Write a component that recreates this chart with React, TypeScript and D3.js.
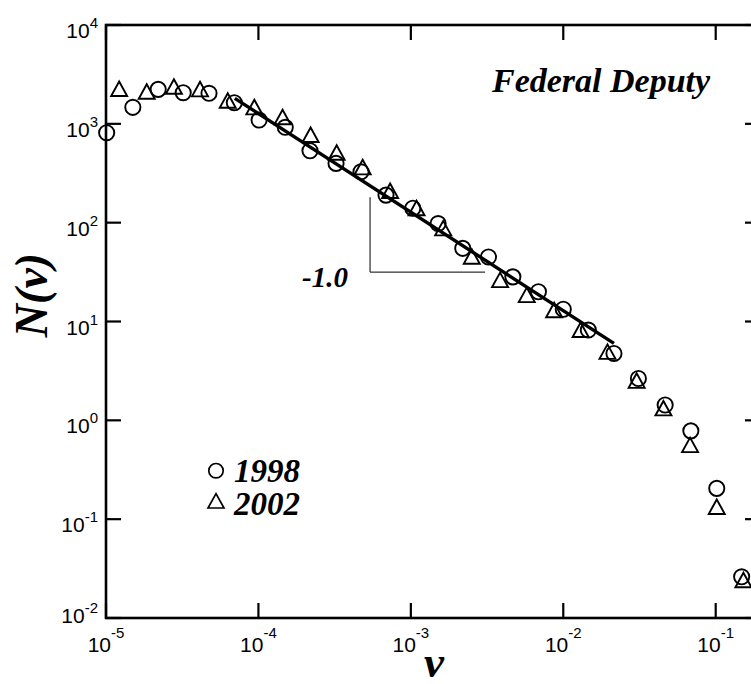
import * as d3 from 'd3';

// 1998 election (circles)
const V_1998 = [
  1.01e-5, 1.5e-5, 2.2e-5, 3.21e-5, 4.74e-5, 6.95e-5, 1.01e-4, 1.5e-4, 2.18e-4, 3.23e-4,
  4.71e-4, 6.87e-4, 1.03e-3, 1.51e-3, 2.19e-3, 3.23e-3, 4.67e-3, 6.87e-3, 1.0e-2, 1.46e-2,
  2.15e-2, 3.11e-2, 4.66e-2, 6.87e-2, 0.1016, 0.148,
];
const N_1998 = [
  813, 1469, 2234, 2065, 2037, 1636, 1092, 922, 534, 398,
  327, 190, 140, 98, 55, 45, 28.3, 20.0, 13.3, 8.19,
  4.75, 2.65, 1.43, 0.783, 0.205, 0.0261,
];

// 2002 election (triangles)
const V_2002 = [
  1.22e-5, 1.85e-5, 2.79e-5, 4.14e-5, 6.29e-5, 9.4e-5, 1.44e-4, 2.2e-4, 3.26e-4, 4.83e-4,
  7.31e-4, 1.09e-3, 1.63e-3, 2.51e-3, 3.85e-3, 5.76e-3, 8.71e-3, 1.3e-2, 1.95e-2, 3.03e-2,
  4.54e-2, 6.79e-2, 0.1016, 0.152,
];
const N_2002 = [
  2250, 2113, 2373, 2234, 1713, 1469, 1164, 771, 510, 363,
  209, 140, 87.5, 45.2, 26.2, 18.5, 13.0, 8.19, 4.93, 2.51,
  1.32, 0.561, 0.133, 0.0241,
];

// power-law fit, slope -1.0
const FIT_V = [7.0e-5, 2.15e-2];
const FIT_N = [1810, 6.0];

// slope guide corner
const GUIDE_V = [5.4e-4, 3.07e-3];
const GUIDE_N = [181, 31.6];

const X_EXPONENTS = [-5, -4, -3, -2, -1];
const Y_EXPONENTS = [-2, -1, 0, 1, 2, 3, 4];

const W = 751;
const H = 684;
const LEFT = 106;
const RIGHT = 760; // right frame sits just outside the picture
const TOP = 25;
const BOTTOM = 618;
const TICK = 15;

const SERIF = '"Liberation Serif", "Times New Roman", serif';
const SANS = '"Liberation Sans", Arial, sans-serif';

function Circle({ x, y }: { x: number; y: number }) {
  return <circle cx={x} cy={y} r={7.6} fill="none" stroke="#000" strokeWidth={1.9} />;
}

function Triangle({ x, y }: { x: number; y: number }) {
  return (
    <path
      d={`M${x},${y - 7.5} L${x + 8},${y + 7} L${x - 8},${y + 7} Z`}
      fill="none"
      stroke="#000"
      strokeWidth={1.9}
      strokeLinejoin="miter"
    />
  );
}

export default function App() {
  const x = d3.scaleLog().domain([1e-5, 1e-1]).range([LEFT, 715.7]);
  const y = d3.scaleLog().domain([1e-2, 1e4]).range([BOTTOM, TOP]);

  const fitLine = d3.line<number>()
    .x((_, i) => x(FIT_V[i]))
    .y((_, i) => y(FIT_N[i]));

  const gx0 = x(GUIDE_V[0]);
  const gx1 = x(GUIDE_V[1]);
  const gy0 = y(GUIDE_N[0]);
  const gy1 = y(GUIDE_N[1]);

  return (
    <svg
      width={W}
      height={H}
      style={{ position: 'absolute', left: 0, top: 0, background: '#fff', display: 'block' }}
    >
      <rect width={W} height={H} fill="#fff" />

      {/* frame */}
      <rect
        x={LEFT} y={TOP} width={RIGHT - LEFT} height={BOTTOM - TOP}
        fill="none" stroke="#000" strokeWidth={2.6}
      />

      {/* x ticks, bottom and top */}
      {X_EXPONENTS.map(e => {
        const px = x(Math.pow(10, e));
        return (
          <g key={'x' + e}>
            <line x1={px} x2={px} y1={BOTTOM} y2={BOTTOM - TICK} stroke="#000" strokeWidth={2.2} />
            <line x1={px} x2={px} y1={TOP} y2={TOP + TICK} stroke="#000" strokeWidth={2.2} />
            <text x={px} y={652} textAnchor="middle" fontFamily={SANS} fontSize={21} fill="#000">
              10<tspan dy={-14} fontSize={15}>{e}</tspan>
            </text>
          </g>
        );
      })}

      {/* y ticks, left and right */}
      {Y_EXPONENTS.map(e => {
        const py = y(Math.pow(10, e));
        return (
          <g key={'y' + e}>
            <line x1={LEFT} x2={LEFT + TICK} y1={py} y2={py} stroke="#000" strokeWidth={2.2} />
            <line x1={RIGHT} x2={RIGHT - TICK} y1={py} y2={py} stroke="#000" strokeWidth={2.2} />
            <text
              x={98} y={py + (e === -2 ? 5 : 13)}
              textAnchor="end" fontFamily={SANS} fontSize={21} fill="#000"
            >
              10<tspan dy={-10} fontSize={15}>{e}</tspan>
            </text>
          </g>
        );
      })}

      {/* fit */}
      <path d={fitLine(FIT_V) ?? ''} fill="none" stroke="#000" strokeWidth={3.4} />

      {/* slope guide */}
      <path
        d={`M${gx0},${gy0} L${gx0},${gy1} L${gx1},${gy1}`}
        fill="none" stroke="#000" strokeWidth={1}
      />
      <text x={302} y={287} fontFamily={SERIF} fontWeight={700} fontStyle="italic" fontSize={29}>
        -1.0
      </text>

      {/* data */}
      {V_2002.map((v, i) => <Triangle key={'t' + i} x={x(v)} y={y(N_2002[i])} />)}
      {V_1998.map((v, i) => <Circle key={'c' + i} x={x(v)} y={y(N_1998[i])} />)}

      {/* title */}
      <text x={492} y={92} fontFamily={SERIF} fontWeight={700} fontStyle="italic" fontSize={34}>
        Federal Deputy
      </text>

      {/* legend */}
      <circle cx={216} cy={470.7} r={7.2} fill="none" stroke="#000" strokeWidth={1.7} />
      <path d="M216,493.7 L224,508 L208,508 Z" fill="none" stroke="#000" strokeWidth={1.7} />
      <text x={234} y={482} fontFamily={SERIF} fontWeight={700} fontStyle="italic" fontSize={33}>1998</text>
      <text x={234} y={515} fontFamily={SERIF} fontWeight={700} fontStyle="italic" fontSize={33}>2002</text>

      {/* axis labels */}
      <text x={434} y={677} textAnchor="middle" fontFamily={SERIF} fontWeight={700} fontStyle="italic" fontSize={45}>
        v
      </text>
      <text
        transform="translate(47,295) rotate(-90)"
        textAnchor="middle" fontFamily={SERIF} fontWeight={700} fontStyle="italic" fontSize={46}
      >
        N(v)
      </text>
    </svg>
  );
}
